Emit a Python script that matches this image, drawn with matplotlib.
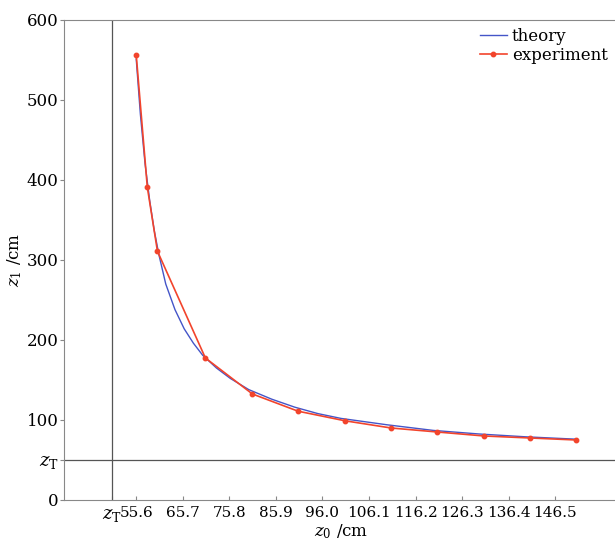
import matplotlib.pyplot as plt

plt.rcParams['font.family'] = 'DejaVu Serif'
plt.rcParams['mathtext.fontset'] = 'dejavuserif'

# dados
z_T = 50.3
theory_z0 = [55.6, 56.5, 57.5, 58.5, 59.5, 60.5, 62.0, 64.0, 66.0, 68.0, 70.0,
             73.0, 76.0, 80.0, 85.0, 90.0, 95.0, 100.0, 110.0, 120.0, 130.0,
             140.0, 151.1]
theory_z1 = [551, 482, 421, 375, 337, 307, 270, 238, 214, 196, 181,
             165, 152, 138, 126, 116, 108, 102, 94, 87, 82.5,
             79, 76]
exp_z0 = [55.6, 58.0, 60.2, 70.6, 80.8, 90.7, 100.9, 110.9, 120.9, 131.1, 141.1, 151.1]
exp_z1 = [556, 391, 311, 177.5, 132.5, 111, 99, 90, 85, 80, 77.5, 75]

x_ticks = [z_T, 55.6, 65.7, 75.8, 85.9, 96.0, 106.1, 116.2, 126.3, 136.4, 146.5]
x_tick_labels = [r'$z_\mathrm{T}$'] + ['55.6', '65.7', '75.8', '85.9', '96.0',
                                       '106.1', '116.2', '126.3', '136.4', '146.5']
y_ticks = [0, z_T, 100, 200, 300, 400, 500, 600]
y_tick_labels = ['0', r'$z_\mathrm{T}$', '100', '200', '300', '400', '500', '600']

fig = plt.figure(figsize=(6.15, 5.42), dpi=100)
ax = fig.add_axes([0.1046, 0.0775, 0.8995, 0.8856])

ax.plot(theory_z0, theory_z1, color='#4455c8', lw=1.0, label='theory')
ax.plot(exp_z0, exp_z1, color='#f2442c', lw=1.2, marker='o', markersize=3.2,
        label='experiment')

# linhas de z_T
ax.axhline(z_T, color='#555555', lw=0.9)
ax.axvline(z_T, color='#555555', lw=0.9)

ax.set_xlim(40, 160)
ax.set_ylim(0, 600)
ax.set_xticks(x_ticks)
ax.set_xticklabels(x_tick_labels)
ax.set_yticks(y_ticks)
ax.set_yticklabels(y_tick_labels)
ax.tick_params(axis='x', direction='in', length=3, labelsize=11, color='#888888', pad=4.5)
ax.tick_params(axis='y', direction='out', length=3, labelsize=12, color='#888888', pad=1)
# o rótulo z_T é um pouco maior
ax.get_xticklabels()[0].set_fontsize(13)
ax.get_yticklabels()[1].set_fontsize(13)

for side in ['left', 'bottom', 'top']:
    ax.spines[side].set_color('#888888')
ax.spines['right'].set_visible(False)

ax.set_xlabel(r'$z_0$ /cm', fontsize=12)
ax.xaxis.set_label_coords(0.5, -0.047)
ax.set_ylabel(r'$z_1$ /cm', fontsize=12, labelpad=2)

ax.legend(loc='upper right', bbox_to_anchor=(0.997, 1.0), frameon=False,
          fontsize=12, handlelength=1.6, handletextpad=0.3, labelspacing=0.1,
          borderaxespad=0.1)

fig.savefig('out.png', dpi=100)
